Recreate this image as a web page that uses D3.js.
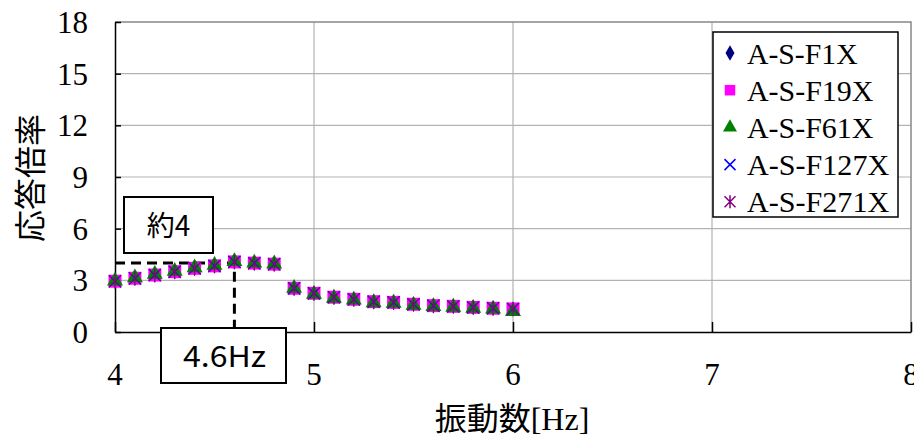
<!DOCTYPE html>
<html><head><meta charset="utf-8">
<script src="https://cdn.jsdelivr.net/npm/d3@7"></script>
<style>html,body{margin:0;padding:0;background:#fff;overflow:hidden}</style>
</head><body><svg id="c" width="914" height="438"></svg>
<script>
const freq = [4.0,4.1,4.2,4.3,4.4,4.5,4.6,4.7,4.8,4.9,5.0,5.1,5.2,5.3,5.4,5.5,5.6,5.7,5.8,5.9,6.0];
const F1X   = [2.95,3.12,3.31,3.50,3.70,3.84,4.07,4.00,3.94,2.54,2.25,2.02,1.90,1.76,1.72,1.61,1.53,1.49,1.43,1.38,1.34];
const F19X  = [2.95,3.12,3.31,3.50,3.70,3.84,4.07,4.00,3.94,2.54,2.25,2.02,1.90,1.76,1.72,1.61,1.53,1.49,1.43,1.38,1.34];
const F61X  = [2.97,3.15,3.36,3.53,3.73,3.88,4.10,4.01,3.96,2.55,2.20,1.97,1.86,1.71,1.68,1.56,1.48,1.45,1.38,1.34,1.20];
const F127X = [2.95,3.12,3.31,3.50,3.70,3.84,4.07,4.00,3.94,2.54,2.25,2.02,1.90,1.76,1.72,1.61,1.53,1.49,1.43,1.38,1.34];
const F271X = [2.94,3.11,3.30,3.49,3.69,3.83,4.06,3.99,3.93,2.53,2.24,2.01,1.89,1.75,1.71,1.60,1.52,1.48,1.42,1.37,1.33];
const seriesNames = ["A-S-F1X","A-S-F19X","A-S-F61X","A-S-F127X","A-S-F271X"];
const seriesValues = [F1X,F19X,F61X,F127X,F271X];
const xTicks = [4,5,6,7,8];
const yTicks = [0,3,6,9,12,15,18];
const title = "各点の応答倍率（Ｘ方向正弦波加振）";
const xTitle = "振動数";
const xTitleUnit = "[Hz]";
const yTitle = "応答倍率";
const peakFreq = 4.6, peakVal = 4;
const peakFreqLabel = "4.6Hz", peakValLabel = "約4";

const svg = d3.select("#c");
const x = d3.scaleLinear().domain([4,8]).range([115,911]);
const y = d3.scaleLinear().domain([0,18]).range([332,22]);
const serif = "'Liberation Serif','Times New Roman',serif";
const cjk = "'Noto Sans CJK JP','Noto Sans',sans-serif";

// title (mostly cut off at top, as in the reference)
svg.append("text").attr("x",480).attr("y",-4).attr("text-anchor","middle")
  .attr("font-family",cjk).attr("font-size",32).attr("fill","#000").text(title);

// gridlines
svg.append("g").selectAll("line").data(yTicks.filter(d=>d>0&&d<18)).join("line")
  .attr("x1",x(4)).attr("x2",x(8)).attr("y1",d=>y(d)).attr("y2",d=>y(d))
  .attr("stroke","#b3b3b3").attr("stroke-width",1.2);
svg.append("g").selectAll("line").data(xTicks.filter(d=>d>4&&d<8)).join("line")
  .attr("y1",y(0)).attr("y2",y(18)).attr("x1",d=>x(d)).attr("x2",d=>x(d))
  .attr("stroke","#b3b3b3").attr("stroke-width",1.2);
// top/right border
svg.append("path").attr("d",`M${x(4)},${y(18)}H${x(8)}V${y(0)}`)
  .attr("fill","none").attr("stroke","#888").attr("stroke-width",1.5);

// axes
const yAxis = d3.axisLeft(y).tickValues(yTicks).tickSizeInner(-6).tickSizeOuter(0).tickFormat("");
const gy = svg.append("g").attr("transform",`translate(${x(4)},0)`).call(yAxis);
gy.select(".domain").attr("stroke","#000").attr("stroke-width",1.5);
gy.selectAll(".tick line").attr("stroke","#000").attr("stroke-width",1.5);
const xAxis = d3.axisBottom(x).tickValues(xTicks).tickSizeInner(-10).tickSizeOuter(0).tickFormat("");
const gx = svg.append("g").attr("transform",`translate(0,${y(0)})`).call(xAxis);
gx.select(".domain").attr("stroke","#000").attr("stroke-width",1.5);
gx.selectAll(".tick line").attr("stroke","#000").attr("stroke-width",1.5);

// tick labels
svg.append("g").selectAll("text").data(yTicks).join("text")
  .attr("x",88).attr("y",d=>y(d)+11).attr("text-anchor","end")
  .attr("font-family",serif).attr("font-size",31).text(d=>d);
svg.append("g").selectAll("text").data(xTicks).join("text")
  .attr("x",d=>x(d)).attr("y",385).attr("text-anchor","middle")
  .attr("font-family",serif).attr("font-size",31).text(d=>d);

// axis titles
const xt = svg.append("text").attr("x",512).attr("y",430).attr("text-anchor","middle").attr("font-size",32);
xt.append("tspan").attr("font-family",cjk).text(xTitle);
xt.append("tspan").attr("font-family",serif).text(xTitleUnit);
svg.append("text").attr("transform","translate(42,178) rotate(-90)").attr("text-anchor","middle")
  .attr("font-family",cjk).attr("font-size",32).text(yTitle);

// dashed annotation lines
svg.append("path").attr("d",`M${x(4)},${y(peakVal)}H${x(peakFreq)}V${y(0)}`)
  .attr("fill","none").attr("stroke","#000").attr("stroke-width",3).attr("stroke-dasharray","10,6");

// markers
const markerPath = [
  d3.symbol().type(d3.symbolDiamond).size(70)(),
  d3.symbol().type(d3.symbolSquare).size(169)(),
  d3.symbol().type(d3.symbolTriangle).size(110)(),
  "M-6,-6L6,6M-6,6L6,-6",
  "M-6,-6L6,6M-6,6L6,-6M0,-7V7"
];
const markerFill = ["#000080","#ff00ff","#008000","none","none"];
const markerStroke = ["none","none","none","#0000ff","#800080"];
seriesValues.forEach((vals,i)=>{
  svg.append("g").selectAll("path").data(vals.map((v,j)=>[freq[j],v])).join("path")
    .attr("transform",d=>`translate(${x(d[0])},${y(d[1])})`)
    .attr("d",markerPath[i]).attr("fill",markerFill[i])
    .attr("stroke",markerStroke[i]).attr("stroke-width",1.1);
});

// annotation boxes
function box(x0,y0,w,h,label,fs,tx,ty,tl){
  svg.append("rect").attr("x",x0).attr("y",y0).attr("width",w).attr("height",h)
    .attr("fill","#fff").attr("stroke","#000").attr("stroke-width",2);
  const t = svg.append("text").attr("x",tx).attr("y",ty).attr("text-anchor","middle")
    .attr("font-family",cjk).attr("font-size",fs).text(label);
  if(tl) t.attr("textLength",tl).attr("lengthAdjust","spacingAndGlyphs");
}
box(124,197,89,56,peakValLabel,28,168.5,236);
box(161,328,125,55,peakFreqLabel,29,224.5,367,83);

// legend
const lg = svg.append("g");
lg.append("rect").attr("x",713).attr("y",32).attr("width",185).attr("height",185)
  .attr("fill","#fff").attr("stroke","#000").attr("stroke-width",1.5);
const legendMarker = [
  d3.symbol().type(d3.symbolDiamond).size(70)(),
  d3.symbol().type(d3.symbolSquare).size(110)(),
  d3.symbol().type(d3.symbolTriangle).size(85)(),
  "M-5.5,-5.5L5.5,5.5M-5.5,5.5L5.5,-5.5",
  "M-5.5,-5.5L5.5,5.5M-5.5,5.5L5.5,-5.5M0,-6.5V6.5"
];
seriesNames.forEach((nm,i)=>{
  const cy = 53 + i*37.2;
  lg.append("path").attr("transform",`translate(730,${cy})`).attr("d",legendMarker[i])
    .attr("fill",markerFill[i]).attr("stroke",markerStroke[i]).attr("stroke-width",1.5);
  lg.append("text").attr("x",747).attr("y",cy+10.5).attr("font-family",serif).attr("font-size",30)
    .attr("textLength",nm.length*15.8).attr("lengthAdjust","spacingAndGlyphs").text(nm);
});
</script></body></html>
